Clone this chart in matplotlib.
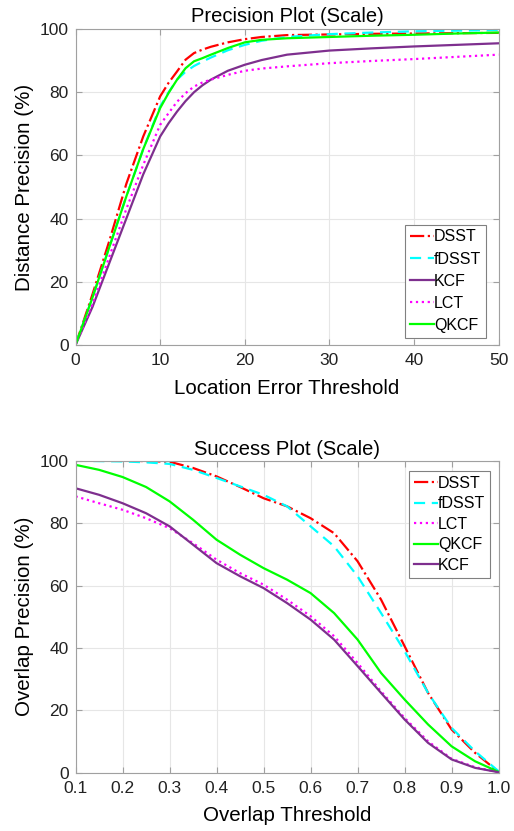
import matplotlib
matplotlib.use('Agg')
import matplotlib.pyplot as plt

plt.rcParams['font.family'] = ['Liberation Sans', 'DejaVu Sans']

# precision plot data (location error threshold -> distance precision %)
err_x = [0, 2, 4, 6, 8, 10, 11, 12, 13, 14, 15, 16, 18, 20, 22, 25, 30, 35, 40, 45, 50]
p_dsst = [0, 16, 33, 51, 66, 78.7, 83, 86.6, 90.3, 92.4, 93.5, 94.4, 95.8, 96.8, 97.5, 98.1, 98.3, 98.5, 98.6, 98.7, 98.8]
p_fdsst = [0, 15, 31, 47, 62, 75.5, 80, 84, 86.5, 88.3, 89.7, 91, 93.3, 95, 96.3, 97.5, 98.4, 98.9, 99.3, 99.5, 99.7]
p_kcf = [0, 12, 26, 40, 54, 66, 70.2, 73.9, 77.2, 80, 82.2, 84, 86.8, 88.7, 90.2, 91.9, 93.2, 93.9, 94.5, 95, 95.5]
p_lct = [0, 13, 28, 43, 57, 69.7, 73.4, 77, 79.7, 81.8, 83.1, 84, 85.5, 86.8, 87.5, 88.2, 89.2, 89.9, 90.5, 91.2, 91.9]
p_qkcf = [0, 15, 31, 47, 62, 75, 79.8, 84, 87.6, 89.8, 90.8, 91.9, 94, 95.8, 96.6, 97.1, 97.5, 97.9, 98.2, 98.6, 98.9]

# success plot data (overlap threshold -> overlap precision %)
ov_x = [0.1, 0.15, 0.2, 0.25, 0.3, 0.35, 0.4, 0.45, 0.5, 0.55, 0.6, 0.65, 0.7, 0.75, 0.8, 0.85, 0.9, 0.95, 1.0]
s_dsst = [100, 100, 100, 99.9, 99.7, 97.7, 95, 91.6, 88, 85.4, 81.6, 76.8, 67.8, 55.5, 40.6, 25.6, 13.9, 6.4, 0.3]
s_fdsst = [100, 99.9, 99.8, 99.5, 99, 97.1, 94.5, 91.8, 89.1, 85.4, 79, 72.6, 63, 51.2, 39, 25.6, 14.4, 6.9, 0.5]
s_lct = [88.6, 86.4, 84.3, 81.6, 78.4, 73.6, 68.3, 64, 60.3, 55.5, 50.2, 43.8, 35.2, 26.1, 17.6, 10.1, 4.5, 1.8, 0.2]
s_qkcf = [98.7, 97.1, 94.8, 91.6, 87, 81.1, 74.7, 69.9, 65.6, 61.9, 57.6, 51.2, 42.7, 32, 23.5, 15.5, 8.5, 3.7, 0.3]
s_kcf = [91.2, 89.1, 86.4, 83.2, 79, 73.1, 67.2, 63, 59.2, 54.4, 49.1, 42.7, 34.2, 25.6, 17.1, 9.6, 4.3, 1.6, 0.2]

red = '#FF0000'
cyan = '#00FFFF'
purple = '#7E2F8E'
magenta = '#FF00FF'
green = '#00FF00'
lw = 1.6

fig = plt.figure(figsize=(5.14, 8.31), dpi=100)
ax1 = fig.add_axes([0.147, 0.585, 0.823, 0.380])
ax2 = fig.add_axes([0.147, 0.070, 0.823, 0.3755])


def style(ax):
    ax.grid(True, color='#E6E6E6', linewidth=0.8)
    ax.set_axisbelow(True)
    for s in ax.spines.values():
        s.set_color('#A0A0A0')
        s.set_linewidth(0.8)
    ax.tick_params(direction='in', length=4, color='#A0A0A0', labelsize=12.5,
                   labelcolor='#222222', top=True, right=True,
                   labeltop=False, labelright=False)
    ax.tick_params(axis='x', pad=6)
    ax.tick_params(axis='y', pad=5)


def legend(ax, loc, anchor, spacing):
    leg = ax.legend(loc=loc, bbox_to_anchor=anchor, fontsize=11.5, fancybox=False,
                    framealpha=1, edgecolor='#808080', handlelength=1.5,
                    handletextpad=0.0, labelspacing=spacing, borderpad=0.3,
                    borderaxespad=0.0)
    leg.get_frame().set_linewidth(0.8)
    return leg


ax1.plot(err_x, p_dsst, color=red, linestyle='-.', lw=lw, label='DSST')
ax1.plot(err_x, p_fdsst, color=cyan, linestyle=(0, (5, 3)), lw=lw, label='fDSST')
ax1.plot(err_x, p_kcf, color=purple, linestyle='-', lw=lw, label='KCF')
ax1.plot(err_x, p_lct, color=magenta, linestyle=':', lw=lw, label='LCT')
ax1.plot(err_x, p_qkcf, color=green, linestyle='-', lw=lw, label='QKCF')
ax1.set_xlim(0, 50)
ax1.set_ylim(0, 100)
ax1.set_xticks([0, 10, 20, 30, 40, 50])
ax1.set_yticks([0, 20, 40, 60, 80, 100])
ax1.set_title('Precision Plot (Scale)', fontsize=14.5, pad=5)
ax1.set_xlabel('Location Error Threshold', fontsize=14.8, labelpad=8)
ax1.set_ylabel('Distance Precision (%)', fontsize=14.8, labelpad=4)
style(ax1)
legend(ax1, 'lower right', (1 - 12.7 / 423, 7 / 316), 0.45)

ax2.plot(ov_x, s_dsst, color=red, linestyle='-.', lw=lw, label='DSST')
ax2.plot(ov_x, s_fdsst, color=cyan, linestyle=(0, (5, 3)), lw=lw, label='fDSST')
ax2.plot(ov_x, s_lct, color=magenta, linestyle=':', lw=lw, label='LCT')
ax2.plot(ov_x, s_qkcf, color=green, linestyle='-', lw=lw, label='QKCF')
ax2.plot(ov_x, s_kcf, color=purple, linestyle='-', lw=lw, label='KCF')
ax2.set_xlim(0.1, 1.0)
ax2.set_ylim(0, 100)
ax2.set_xticks([0.1, 0.2, 0.3, 0.4, 0.5, 0.6, 0.7, 0.8, 0.9, 1.0])
ax2.set_xticklabels(['0.1', '0.2', '0.3', '0.4', '0.5', '0.6', '0.7', '0.8', '0.9', '1.0'])
ax2.set_yticks([0, 20, 40, 60, 80, 100])
ax2.set_title('Success Plot (Scale)', fontsize=14.5, pad=4)
ax2.set_xlabel('Overlap Threshold', fontsize=14.8, labelpad=7)
ax2.set_ylabel('Overlap Precision (%)', fontsize=14.8, labelpad=4)
style(ax2)
legend(ax2, 'upper right', (1 - 8.7 / 423, 1 - 10 / 312), 0.35)

fig.savefig('out.png', dpi=100)
